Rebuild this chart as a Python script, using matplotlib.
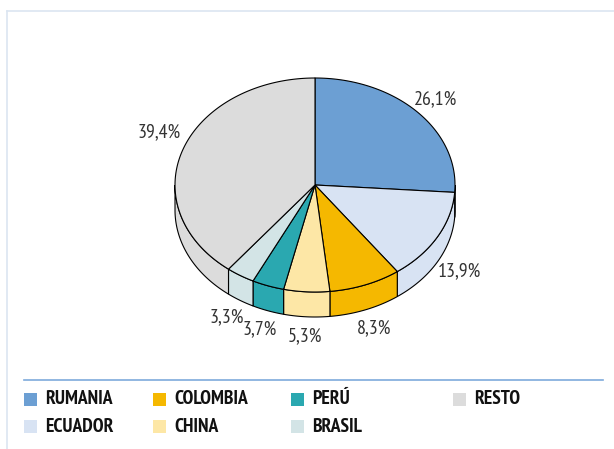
import numpy as np
import matplotlib.pyplot as plt
from matplotlib.patches import Polygon, Rectangle

paises = ['RUMANIA', 'ECUADOR', 'COLOMBIA', 'CHINA', 'PERÚ', 'BRASIL', 'RESTO']
valores = [26.1, 13.9, 8.3, 5.3, 3.7, 3.3, 39.4]
etiquetas = ['26,1%', '13,9%', '8,3%', '5,3%', '3,7%', '3,3%', '39,4%']
colores = ['#6c9fd3', '#d8e3f3', '#f5b800', '#fde7a6', '#2aa8b0', '#d3e4e6', '#dcdcdc']

fuente = ['PT Sans Narrow', 'Liberation Sans', 'DejaVu Sans']

# geometria de la tarta (pixeles)
cx, cy = 315, 185
rx, ry = 140, 107
prof = 25

fig = plt.figure(figsize=(6.14, 4.49), dpi=100)
ax = fig.add_axes([0, 0, 1, 1])
ax.set_xlim(0, 614)
ax.set_ylim(449, 0)
ax.axis('off')

total = sum(valores)
ang = 90.0
bordes = []
for v in valores:
    a2 = ang - v / total * 360
    bordes.append((ang, a2))
    ang = a2

# caras laterales (solo la mitad delantera)
for (a1, a2), c in zip(bordes, colores):
    for off in (0, -360, 360):
        lo = max(a2 + off, -180)
        hi = min(a1 + off, 0)
        if hi > lo:
            t = np.linspace(lo, hi, 60)
            xs = cx + rx * np.cos(np.radians(t))
            ys = cy - ry * np.sin(np.radians(t))
            pts = list(zip(xs, ys)) + list(zip(xs[::-1], ys[::-1] + prof))
            ax.add_patch(Polygon(pts, closed=True, facecolor=c, edgecolor='black', lw=0.8))

# caras superiores
for (a1, a2), c in zip(bordes, colores):
    t = np.linspace(a1, a2, 120)
    xs = cx + rx * np.cos(np.radians(t))
    ys = cy - ry * np.sin(np.radians(t))
    pts = [(cx, cy)] + list(zip(xs, ys))
    ax.add_patch(Polygon(pts, closed=True, facecolor=c, edgecolor='black', lw=0.8, joinstyle='round'))

# etiquetas de porcentaje
for (a1, a2), txt in zip(bordes, etiquetas):
    m = np.radians((a1 + a2) / 2)
    x = cx + 1.18 * rx * np.cos(m)
    y = cy - 1.18 * ry * np.sin(m)
    if np.sin(m) < 0:
        y += prof
    elif np.cos(m) < 0:
        y -= 12  # la etiqueta de RESTO queda algo mas arriba
    ax.text(x, y, txt, ha='center', va='center', fontsize=14.3, color='#333333', family=fuente)

# marco
ax.plot([7, 614], [11, 11], color='#dbe5f1', lw=1.2)
ax.plot([7, 7], [11, 449], color='#dbe5f1', lw=1.2)
ax.plot([24, 603], [380, 380], color='#7eaadc', lw=1.2)

# leyenda
col_x = [24, 153, 291, 453]
fila_y = [399, 426]
pos = [(0, 0), (0, 1), (1, 0), (1, 1), (2, 0), (2, 1), (3, 0)]
for (ci, fi), nombre, c in zip(pos, paises, colores):
    x, y = col_x[ci], fila_y[fi]
    ax.add_patch(Rectangle((x, y - 6.5), 13, 13, facecolor=c, edgecolor='none'))
    ax.text(x + 21, y + 0.5, nombre, ha='left', va='center', fontsize=14,
            fontweight='bold', color='#111111', family=fuente)

fig.savefig('out.png', dpi=100, facecolor='white')
